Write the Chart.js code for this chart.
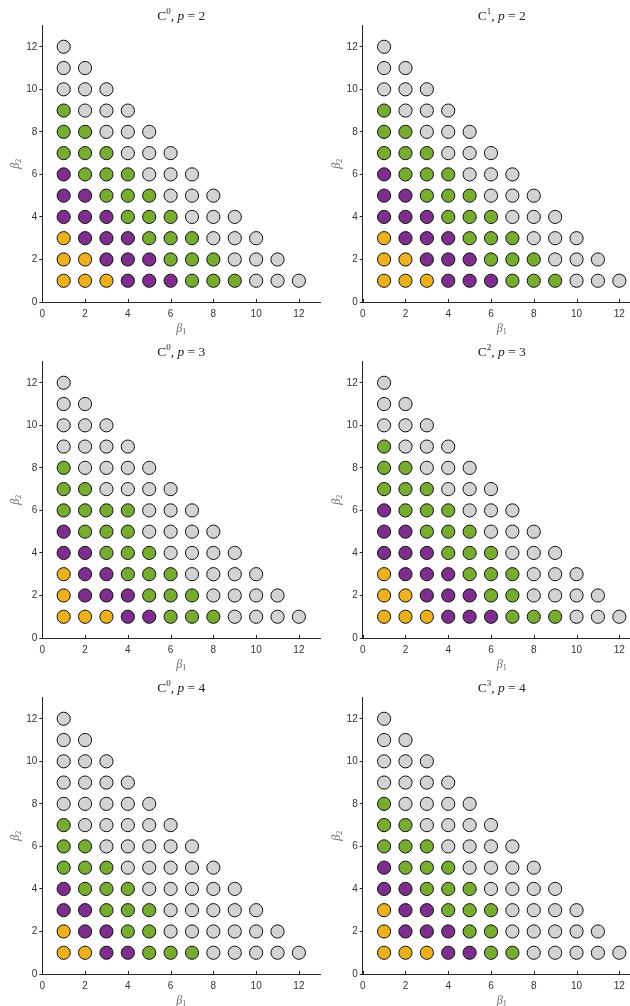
<!DOCTYPE html>
<html><head><meta charset="utf-8">
<script src="https://cdn.jsdelivr.net/npm/chart.js@4/dist/chart.umd.min.js"></script>
<style>
html,body{margin:0;padding:0;background:#fff;overflow:hidden;width:630px;height:1006px;position:relative}
canvas{position:absolute}
</style></head><body>
<script>
// ---- data ----
const beta1Ticks = [0, 2, 4, 6, 8, 10, 12];
const beta2Ticks = [0, 2, 4, 6, 8, 10, 12];
const beta2Rows  = [1, 2, 3, 4, 5, 6, 7, 8, 9, 10, 11, 12];   // each row holds beta1 = 1 .. 13-beta2
const classNames = ['orange', 'purple', 'green', 'grey'];

// counts of points per class along each row beta2 = 1..12 (starting at beta1 = 1); the rest is grey
const c0p2Orange = [3, 2, 1, 0, 0, 0, 0, 0, 0, 0, 0, 0];
const c0p2Purple = [3, 3, 3, 3, 2, 1, 0, 0, 0, 0, 0, 0];
const c0p2Green  = [3, 3, 3, 3, 3, 3, 3, 2, 1, 0, 0, 0];

const c1p2Orange = [3, 2, 1, 0, 0, 0, 0, 0, 0, 0, 0, 0];
const c1p2Purple = [3, 3, 3, 3, 2, 1, 0, 0, 0, 0, 0, 0];
const c1p2Green  = [3, 3, 3, 3, 3, 3, 3, 2, 1, 0, 0, 0];

const c0p3Orange = [3, 1, 1, 0, 0, 0, 0, 0, 0, 0, 0, 0];
const c0p3Purple = [2, 3, 2, 2, 1, 0, 0, 0, 0, 0, 0, 0];
const c0p3Green  = [3, 3, 3, 3, 3, 4, 2, 1, 0, 0, 0, 0];

const c2p3Orange = [3, 2, 1, 0, 0, 0, 0, 0, 0, 0, 0, 0];
const c2p3Purple = [3, 3, 3, 3, 2, 1, 0, 0, 0, 0, 0, 0];
const c2p3Green  = [3, 2, 3, 3, 3, 3, 3, 2, 1, 0, 0, 0];

const c0p4Orange = [2, 1, 0, 0, 0, 0, 0, 0, 0, 0, 0, 0];
const c0p4Purple = [2, 2, 2, 1, 0, 0, 0, 0, 0, 0, 0, 0];
const c0p4Green  = [3, 2, 3, 3, 3, 2, 1, 0, 0, 0, 0, 0];

const c3p4Orange = [3, 1, 1, 0, 0, 0, 0, 0, 0, 0, 0, 0];
const c3p4Purple = [2, 3, 2, 2, 1, 0, 0, 0, 0, 0, 0, 0];
const c3p4Green  = [2, 2, 3, 3, 3, 3, 2, 1, 0, 0, 0, 0];

const panelSup = ['0', '1', '0', '2', '0', '3'];
const panelP   = ['2', '2', '3', '3', '4', '4'];

// ---- styles ----
const classColors = { orange: '#EDB120', purple: '#7E2F8E', green: '#77AC30', grey: '#D3D3D3' };
const axisColor = '#262626';

function buildPoints(orange, purple, green) {
  const sets = { orange: [], purple: [], green: [], grey: [] };
  beta2Rows.forEach((b2, r) => {
    const n = 13 - b2;
    for (let b1 = 1; b1 <= n; b1++) {
      let cls;
      if (b1 <= orange[r]) cls = 'orange';
      else if (b1 <= orange[r] + purple[r]) cls = 'purple';
      else if (b1 <= orange[r] + purple[r] + green[r]) cls = 'green';
      else cls = 'grey';
      sets[cls].push({ x: b1, y: b2 });
    }
  });
  return sets;
}

const panelData = [
  [c0p2Orange, c0p2Purple, c0p2Green],
  [c1p2Orange, c1p2Purple, c1p2Green],
  [c0p3Orange, c0p3Purple, c0p3Green],
  [c2p3Orange, c2p3Purple, c2p3Green],
  [c0p4Orange, c0p4Purple, c0p4Green],
  [c3p4Orange, c3p4Purple, c3p4Green]
];

const decor = {
  id: 'decor',
  afterDraw(chart, args, opts) {
    const ctx = chart.ctx, ca = chart.chartArea, xs = chart.scales.x;
    ctx.save();
    // inward x ticks
    ctx.strokeStyle = axisColor; ctx.lineWidth = 1;
    beta1Ticks.forEach(v => {
      const px = Math.round(xs.getPixelForValue(v)) + 0.5;
      ctx.beginPath(); ctx.moveTo(px, ca.bottom); ctx.lineTo(px, ca.bottom - 3); ctx.stroke();
    });
    // title
    const serif = '"Liberation Serif", "DejaVu Serif", serif';
    const parts = [
      { t: 'C', f: '13.5px ' + serif, dy: 0 },
      { t: opts.sup, f: '9px ' + serif, dy: -5.5 },
      { t: ', ', f: '13.5px ' + serif, dy: 0 },
      { t: 'p', f: 'italic 13.5px ' + serif, dy: 0 },
      { t: ' = ' + opts.p, f: '13.5px ' + serif, dy: 0 }
    ];
    let total = 0;
    parts.forEach(pt => { ctx.font = pt.f; pt.w = ctx.measureText(pt.t).width; total += pt.w; });
    let x = (ca.left + ca.right) / 2 - total / 2;
    const base = ca.top - 6;
    ctx.fillStyle = '#222'; ctx.textAlign = 'left'; ctx.textBaseline = 'alphabetic';
    parts.forEach(pt => { ctx.font = pt.f; ctx.fillText(pt.t, x, base + pt.dy); x += pt.w; });
    // axis labels
    function drawBeta(sub, cx, cy) {
      ctx.fillStyle = '#6a6a6a';
      ctx.font = 'italic 12px ' + serif;
      const w1 = ctx.measureText('β').width;
      ctx.font = '8px ' + serif;
      const w2 = ctx.measureText(sub).width;
      const x0 = cx - (w1 + w2) / 2;
      ctx.font = 'italic 12px ' + serif;
      ctx.fillText('β', x0, cy + 4);
      ctx.font = '8px ' + serif;
      ctx.fillText(sub, x0 + w1, cy + 6);
    }
    drawBeta('1', (ca.left + ca.right) / 2, ca.bottom + 26);
    ctx.save();
    ctx.translate(ca.left - 27, (ca.top + ca.bottom) / 2);
    ctx.rotate(-Math.PI / 2);
    drawBeta('2', 0, 0);
    ctx.restore();
    ctx.restore();
  }
};

const CW = [322, 330], CL = [0, 320], LW = [42.3, 42.7], AW = 278;
panelData.forEach((pd, i) => {
  const col = i % 2, row = Math.floor(i / 2);
  const cv = document.createElement('canvas');
  cv.width = CW[col]; cv.height = 336;
  cv.style.left = CL[col] + 'px'; cv.style.top = (row * 336) + 'px';
  cv.style.width = CW[col] + 'px'; cv.style.height = '336px';
  document.body.appendChild(cv);
  const sets = buildPoints(pd[0], pd[1], pd[2]);
  new Chart(cv, {
    type: 'scatter',
    data: {
      datasets: classNames.map(c => ({
        label: c,
        data: sets[c],
        backgroundColor: classColors[c],
        borderColor: '#111',
        borderWidth: 1,
        pointRadius: 6.6,
        pointHoverRadius: 6.6,
        clip: false
      }))
    },
    options: {
      responsive: false,
      animation: false,
      events: [],
      layout: { autoPadding: false, padding: { left: 0, top: 25.5, bottom: 0, right: CW[col] - LW[col] - AW } },
      plugins: { legend: { display: false }, tooltip: { enabled: false }, title: { display: false },
                 decor: { sup: panelSup[i], p: panelP[i] } },
      scales: {
        x: {
          type: 'linear', min: 0, max: 13,
          afterFit: s => { s.height = 34; s.paddingLeft = 0; s.paddingRight = 0; },
          afterBuildTicks: s => { s.ticks = beta1Ticks.map(v => ({ value: v })); },
          grid: { drawOnChartArea: false, drawTicks: false },
          border: { display: true, color: axisColor, width: 1 },
          ticks: { padding: 6, color: '#333', font: { family: '"Liberation Sans", Arial, sans-serif', size: 10 }, maxRotation: 0, autoSkip: false }
        },
        y: {
          type: 'linear', min: 0, max: 13,
          afterFit: s => { s.width = LW[col]; s.paddingTop = 0; s.paddingBottom = 0; },
          afterBuildTicks: s => { s.ticks = beta2Ticks.map(v => ({ value: v })); },
          grid: { drawOnChartArea: false, drawTicks: true, tickLength: 3, color: axisColor },
          border: { display: true, color: axisColor, width: 1 },
          ticks: { padding: 2, color: '#333', font: { family: '"Liberation Sans", Arial, sans-serif', size: 10 }, autoSkip: false }
        }
      }
    },
    plugins: [decor]
  });
});
</script>
</body></html>
